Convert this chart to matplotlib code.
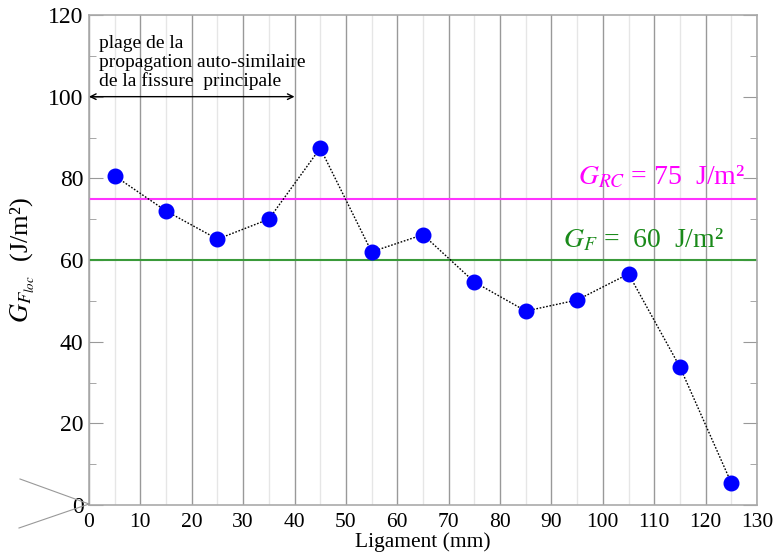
import matplotlib.pyplot as plt
import matplotlib.lines as mlines
import numpy as np

plt.rcParams["font.family"] = ["Liberation Serif", "DejaVu Serif"]
plt.rcParams["mathtext.fontset"] = "stix"

# Data
ligament = [5, 15, 25, 35, 45, 55, 65, 75, 85, 95, 105, 115, 125]
g_floc = [80.6, 72.0, 65.1, 70.0, 87.4, 62.0, 66.2, 54.6, 47.5, 50.2, 56.6, 33.8, 5.4]
g_rc = 75
g_f = 60

fig = plt.figure(figsize=(7.74, 5.52), dpi=100)
ax = fig.add_axes([89 / 774, 47 / 552, 668 / 774, 490 / 552])

ax.set_xlim(0, 130)
ax.set_ylim(0, 120)
ax.set_xticks(np.arange(0, 131, 10))
ax.set_xticks(np.arange(5, 130, 10), minor=True)
ax.set_yticks(np.arange(0, 121, 20))
ax.set_yticks(np.arange(10, 120, 20), minor=True)

# vertical grid only
ax.grid(True, axis="x", which="major", color="#999999", linewidth=1.0)
ax.grid(True, axis="x", which="minor", color="#e6e6e6", linewidth=1.0)

ax.tick_params(axis="y", which="major", direction="in", length=10, color="#999999",
               right=True, labelsize=17, pad=4)
ax.tick_params(axis="y", which="minor", direction="in", length=5, color="#999999", right=True)
ax.tick_params(axis="x", which="both", length=0, labelsize=15.5, pad=6)
for s in ax.spines.values():
    s.set_color("#aaaaaa")
    s.set_linewidth(1.2)

ax.axhline(g_rc, color="#ff33ff", linewidth=1.5, zorder=2)
ax.axhline(g_f, color="#3a9a3a", linewidth=1.5, zorder=2)

ax.plot(ligament, g_floc, linestyle=(0, (1.2, 1.2)), color="black", linewidth=1.0,
        marker="o", markersize=10.5, markerfacecolor="#0000ff", markeredgecolor="#0000ff", zorder=3)

ax.text(127.6, 78.4, r"$G_{RC}$ = 75  J/m²", color="#ff00ff", fontsize=20,
        ha="right", va="baseline")
ax.text(123.6, 63.0, r"$G_F$ =  60  J/m²", color="#1a8a1a", fontsize=20,
        ha="right", va="baseline")

ax.annotate("", xy=(0, 100), xytext=(40, 100),
            arrowprops=dict(arrowstyle="<->", color="black", linewidth=1.0,
                            shrinkA=0, shrinkB=0))
ax.text(2, 101.6, "plage de la\npropagation auto-similaire\nde la fissure  principale",
        fontsize=14, ha="left", va="bottom", linespacing=1.12)

ax.set_xlabel("Ligament (mm)", fontsize=15.5, labelpad=0)
ax.set_ylabel(r"$G_{F_{loc}}$  (J/m²)", fontsize=19, labelpad=8)

# stray lines at bottom left of the reference
fig.add_artist(mlines.Line2D([20 / 774, 89 / 774], [1 - 479 / 552, 1 - 504 / 552],
                             color="#999999", linewidth=0.8))
fig.add_artist(mlines.Line2D([19 / 774, 89 / 774], [1 - 528 / 552, 1 - 504 / 552],
                             color="#999999", linewidth=0.8))

fig.savefig("out.png", dpi=100)
